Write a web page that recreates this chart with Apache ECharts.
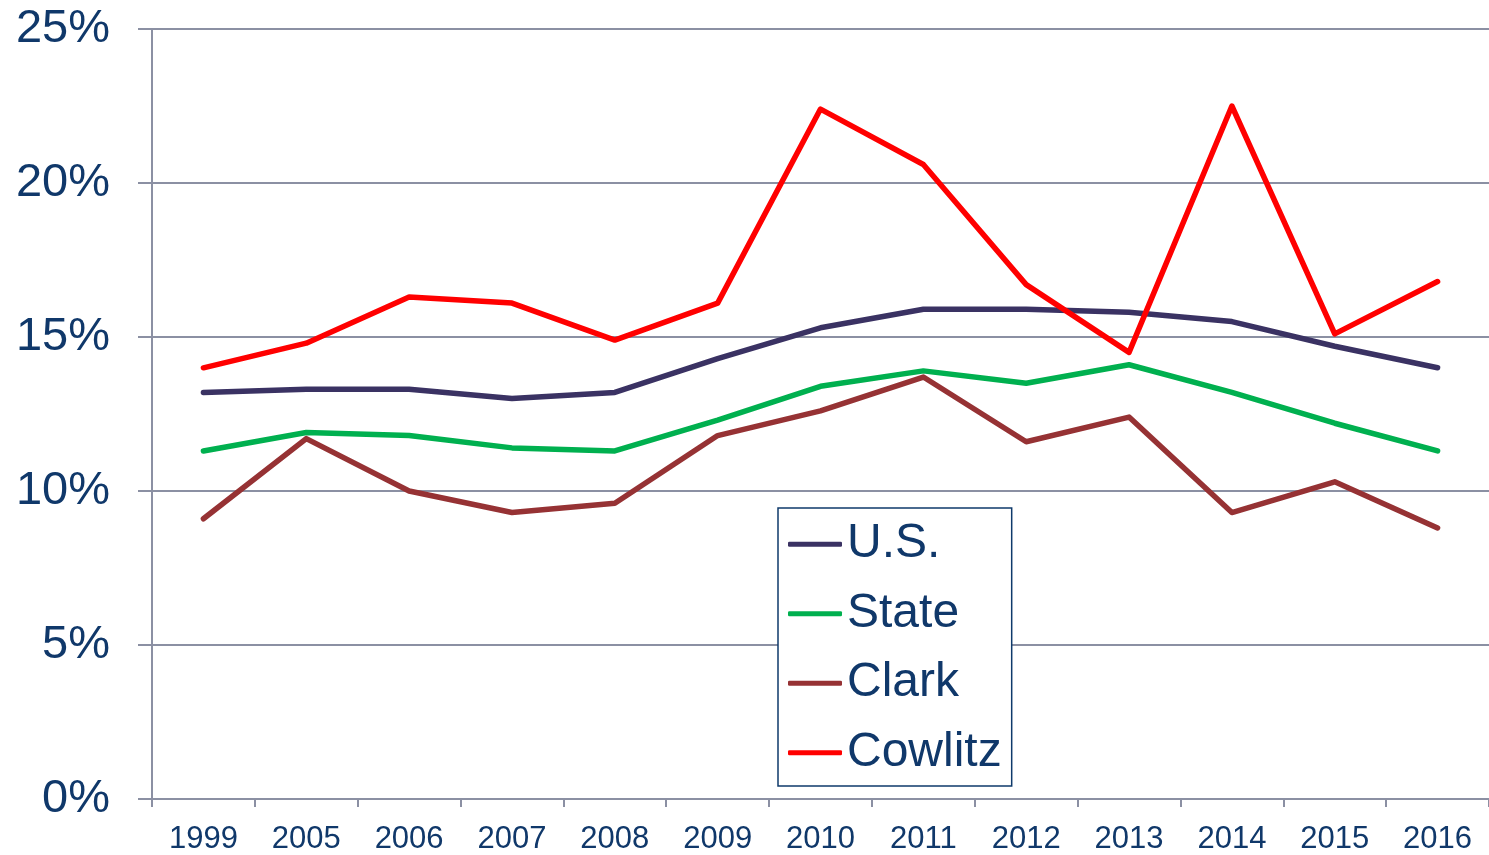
<!DOCTYPE html>
<html>
<head>
<meta charset="utf-8">
<script src="https://cdn.jsdelivr.net/npm/echarts@6/dist/echarts.min.js"></script>
<style>
    html, body { margin: 0; padding: 0; background: #fff; }
    #chart { width: 1489px; height: 855px; }
</style>
</head>
<body>
<div id="chart"></div>
<script>
const years = ['1999', '2005', '2006', '2007', '2008', '2009', '2010', '2011', '2012', '2013', '2014', '2015', '2016'];
const usVals = [13.2, 13.3, 13.3, 13.0, 13.2, 14.3, 15.3, 15.9, 15.9, 15.8, 15.5, 14.7, 14.0];
const stateVals = [11.3, 11.9, 11.8, 11.4, 11.3, 12.3, 13.4, 13.9, 13.5, 14.1, 13.2, 12.2, 11.3];
const clarkVals = [9.1, 11.7, 10.0, 9.3, 9.6, 11.8, 12.6, 13.7, 11.6, 12.4, 9.3, 10.3, 8.8];
const cowlitzVals = [14.0, 14.8, 16.3, 16.1, 14.9, 16.1, 22.4, 20.6, 16.7, 14.5, 22.5, 15.1, 16.8];

const TEXT_COLOR = '#10386a';
const GRID_COLOR = '#8b90a3';
const FONT = '"Liberation Sans", Arial, sans-serif';

const seriesDefs = [
    { name: 'U.S.', color: '#3a3263', data: usVals },
    { name: 'State', color: '#00b04f', data: stateVals },
    { name: 'Clark', color: '#963234', data: clarkVals },
    { name: 'Cowlitz', color: '#ff0000', data: cowlitzVals },
];

const chart = echarts.init(document.getElementById('chart'));
chart.setOption({
    animation: false,
    grid: { left: 152, right: 0, top: 29, bottom: 55 },
    legend: {
        orient: 'vertical',
        left: 778,
        top: 508,
        icon: 'roundRect',
        itemWidth: 54,
        itemHeight: 5,
        itemGap: 19,
        padding: [11, 10, 8, 10],
        borderColor: '#0f3a6b',
        borderWidth: 1.5,
        backgroundColor: '#fff',
        textStyle: { color: TEXT_COLOR, fontSize: 48, fontFamily: FONT, lineHeight: 50.5, padding: [0, 0, 0, 0] },
        data: seriesDefs.map((s) => s.name),
    },
    xAxis: {
        type: 'category',
        data: years,
        boundaryGap: true,
        axisLine: { lineStyle: { color: GRID_COLOR, width: 2 } },
        axisTick: { show: true, interval: 0, length: 8, lineStyle: { color: GRID_COLOR, width: 2 } },
        axisLabel: { color: TEXT_COLOR, fontSize: 31, fontFamily: FONT, margin: 25, interval: 0 },
    },
    yAxis: {
        type: 'value',
        min: 0,
        max: 25,
        interval: 5,
        axisLine: { show: true, lineStyle: { color: GRID_COLOR, width: 2 } },
        axisTick: { show: true, length: 14, lineStyle: { color: GRID_COLOR, width: 2 } },
        splitLine: { lineStyle: { color: GRID_COLOR, width: 2 } },
        axisLabel: { color: TEXT_COLOR, fontSize: 47, fontFamily: FONT, margin: 42, formatter: '{value}%' },
    },
    series: seriesDefs.map((s) => ({
        name: s.name,
        type: 'line',
        data: s.data,
        symbol: 'none',
        color: s.color,
        lineStyle: { color: s.color, width: 5.5, cap: 'round', join: 'round' },
    })),
});
</script>
</body>
</html>
